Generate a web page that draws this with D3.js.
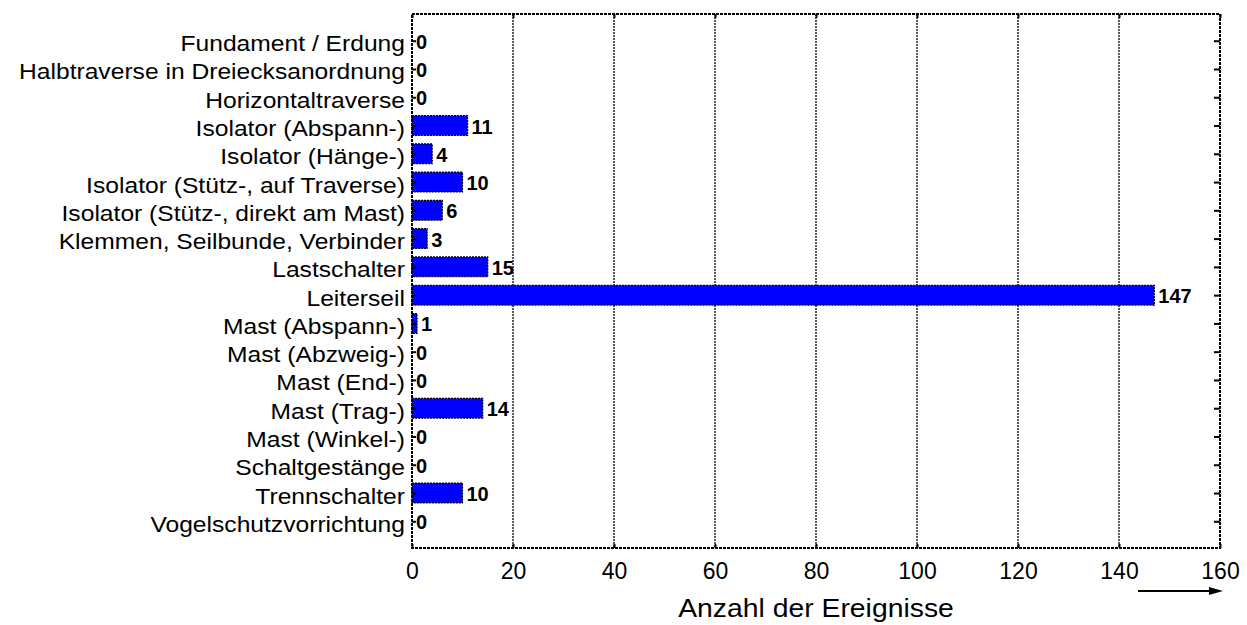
<!DOCTYPE html>
<html>
<head>
<meta charset="utf-8">
<script src="https://cdn.jsdelivr.net/npm/d3@7"></script>
<style>
  body { margin: 0; background: #fff; }
  svg { font-family: Arial, "Liberation Sans", sans-serif; }
</style>
</head>
<body>
<svg width="1247" height="625"></svg>
<script>
const categories = [
  'Fundament / Erdung',
  'Halbtraverse in Dreiecksanordnung',
  'Horizontaltraverse',
  'Isolator (Abspann-)',
  'Isolator (Hänge-)',
  'Isolator (Stütz-, auf Traverse)',
  'Isolator (Stütz-, direkt am Mast)',
  'Klemmen, Seilbunde, Verbinder',
  'Lastschalter',
  'Leiterseil',
  'Mast (Abspann-)',
  'Mast (Abzweig-)',
  'Mast (End-)',
  'Mast (Trag-)',
  'Mast (Winkel-)',
  'Schaltgestänge',
  'Trennschalter',
  'Vogelschutzvorrichtung'
]
const counts = [0, 0, 0, 11, 4, 10, 6, 3, 15, 147, 1, 0, 0, 14, 0, 0, 10, 0]
const xTicks = [0, 20, 40, 60, 80, 100, 120, 140, 160]
const xTitle = 'Anzahl der Ereignisse'

const plot = { left: 412, right: 1220, top: 14, bottom: 548 }
const data = categories.map((c, i) => ({ cat: c, value: counts[i] }))

const svg = d3.select('svg')

const xScale = d3.scaleLinear()
  .domain([0, 160])
  .range([plot.left, plot.right])

const yScale = d3.scalePoint()
  .domain(categories)
  .range([plot.top, plot.bottom])
  .padding(0.945)

const step = yScale.step()
const barH = step * 0.7

// vertical dotted grid
svg.append('g')
  .selectAll('line')
  .data(xTicks.slice(1, -1))
  .enter()
  .append('line')
  .attr('x1', d => xScale(d))
  .attr('x2', d => xScale(d))
  .attr('y1', plot.top)
  .attr('y2', plot.bottom)
  .attr('stroke', '#111')
  .attr('stroke-width', 1.4)
  .attr('stroke-dasharray', '2,1')

// bars
svg.append('g')
  .selectAll('rect')
  .data(data.filter(d => d.value > 0))
  .enter()
  .append('rect')
  .attr('x', xScale(0))
  .attr('y', d => yScale(d.cat) - barH / 2)
  .attr('width', d => xScale(d.value) - xScale(0))
  .attr('height', barH)
  .attr('fill', '#0000ff')
  .attr('stroke', '#000')
  .attr('stroke-width', 1.2)
  .attr('stroke-dasharray', '2,1')

// value labels
svg.append('g')
  .selectAll('text')
  .data(data)
  .enter()
  .append('text')
  .attr('x', d => xScale(d.value) + 4)
  .attr('y', d => yScale(d.cat) + 8)
  .text(d => d.value)
  .style('font-size', '20px')
  .style('font-weight', 'bold')
  .attr('fill', '#000')

// frame
svg.append('rect')
  .attr('x', plot.left)
  .attr('y', plot.top)
  .attr('width', plot.right - plot.left)
  .attr('height', plot.bottom - plot.top)
  .attr('fill', 'none')
  .attr('stroke', '#000')
  .attr('stroke-width', 2)
  .attr('stroke-dasharray', '3,1')

// inward ticks on all four sides
svg.append('g')
  .attr('transform', `translate(${plot.left}, 0)`)
  .call(d3.axisRight(yScale).tickSize(4).tickFormat(''))
svg.append('g')
  .attr('transform', `translate(${plot.right}, 0)`)
  .call(d3.axisLeft(yScale).tickSize(6).tickFormat(''))
svg.append('g')
  .attr('transform', `translate(0, ${plot.bottom})`)
  .call(d3.axisTop(xScale).tickValues(xTicks).tickSize(4).tickFormat(''))
svg.append('g')
  .attr('transform', `translate(0, ${plot.top})`)
  .call(d3.axisBottom(xScale).tickValues(xTicks).tickSize(4).tickFormat(''))
svg.selectAll('.domain').remove()
svg.selectAll('.tick line').attr('stroke', '#000').attr('stroke-width', 2)

// category labels
const yAx = svg.append('g')
  .attr('transform', `translate(${plot.left - 7}, 0)`)
  .call(d3.axisLeft(yScale).tickSize(0).tickPadding(0))
yAx.select('.domain').remove()
yAx.selectAll('text')
  .attr('dy', null)
  .attr('x', 0)
  .attr('y', 10)
  .attr('transform', 'scale(1.12,1)')
  .attr('fill', '#000')
  .style('font-size', '22px')

// x tick labels
const xAx = svg.append('g')
  .attr('transform', `translate(0, ${plot.bottom})`)
  .call(d3.axisBottom(xScale).tickValues(xTicks).tickSize(0).tickFormat(d3.format('d')))
xAx.select('.domain').remove()
xAx.selectAll('text')
  .attr('dy', null)
  .attr('y', 31)
  .attr('fill', '#000')
  .style('font-size', '23px')

// axis title
svg.append('g')
  .attr('transform', `translate(${(plot.left + plot.right) / 2}, 617)`)
  .append('text')
  .text(xTitle)
  .attr('text-anchor', 'middle')
  .attr('transform', 'scale(1.09,1)')
  .style('font-size', '26px')
  .attr('fill', '#000')

// arrow
svg.append('line')
  .attr('x1', 1138)
  .attr('x2', 1212)
  .attr('y1', 591)
  .attr('y2', 591)
  .attr('stroke', '#000')
  .attr('stroke-width', 2)
svg.append('path')
  .attr('d', 'M1209,587 L1223,591 L1209,595 Z')
  .attr('fill', '#000')
</script>
</body>
</html>
